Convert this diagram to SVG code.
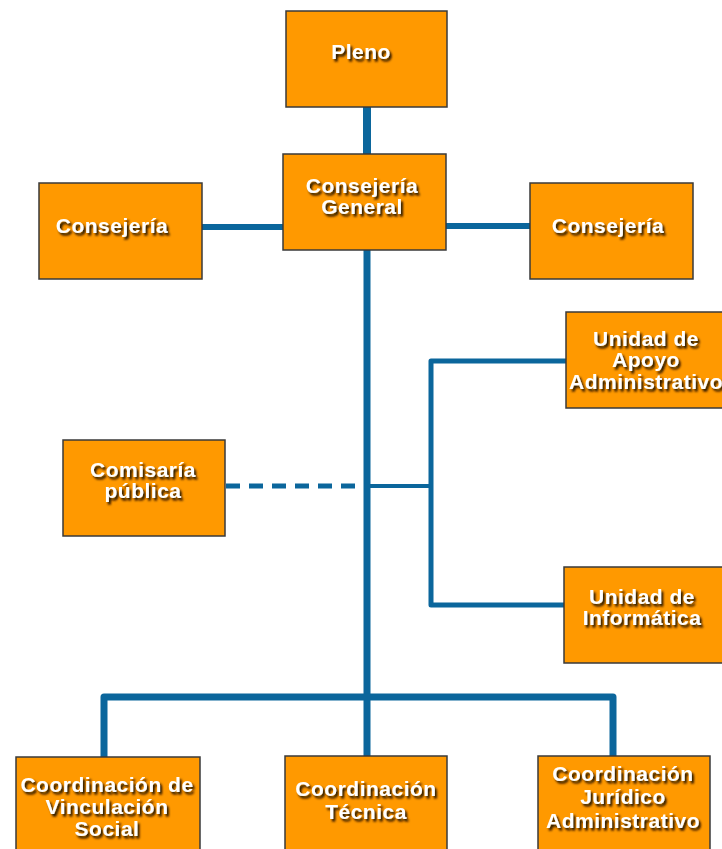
<svg xmlns="http://www.w3.org/2000/svg" width="722" height="849" viewBox="0 0 722 849">
<style>
.box{fill:#FF9900;stroke:#3a3a3a;stroke-width:1.5}
.t{font-family:"Liberation Sans",Arial,sans-serif;font-weight:bold;font-size:21px;letter-spacing:0.5px;fill:#ffffff;text-anchor:middle;filter:url(#sh)}
.c{fill:none;stroke:#0b669c;stroke-linecap:butt;stroke-linejoin:round}
</style>
<defs>
<filter id="sh" x="-20%" y="-40%" width="140%" height="180%">
<feDropShadow dx="2" dy="2.5" stdDeviation="1.2" flood-color="#1e0e00" flood-opacity="1"/>
</filter>
</defs>
<rect width="722" height="849" fill="#ffffff"/>
<g id="connectors">
<line class="c" x1="367" y1="107" x2="367" y2="154" stroke-width="8"/>
<line class="c" x1="202" y1="227" x2="283" y2="227" stroke-width="6"/>
<line class="c" x1="446" y1="226" x2="530" y2="226" stroke-width="6"/>
<line class="c" x1="367" y1="250" x2="367" y2="757" stroke-width="7"/>
<path class="c" d="M566 361 H431 V605 H564" stroke-width="5"/>
<line class="c" x1="367" y1="486" x2="431" y2="486" stroke-width="4"/>
<line class="c" x1="226" y1="486" x2="367" y2="486" stroke-width="5" stroke-dasharray="14 9"/>
<path class="c" d="M104 757 V697 H613 V757" stroke-width="7"/>
</g>
<g id="pleno"><rect class="box" x="286" y="11" width="161" height="96"/><text class="t" x="361" y="59">Pleno</text></g>
<g id="consejeria-general"><rect class="box" x="283" y="154" width="163" height="96"/><text class="t" x="362" y="193">Consejería</text><text class="t" x="362" y="214">General</text></g>
<g id="consejeria-izq"><rect class="box" x="39" y="183" width="163" height="96"/><text class="t" x="112" y="233">Consejería</text></g>
<g id="consejeria-der"><rect class="box" x="530" y="183" width="163" height="96"/><text class="t" x="608" y="233">Consejería</text></g>
<g id="unidad-apoyo"><rect class="box" x="566" y="312" width="162" height="96"/><text class="t" x="646" y="346">Unidad de</text><text class="t" x="646" y="367">Apoyo</text><text class="t" x="646" y="389">Administrativo</text></g>
<g id="comisaria"><rect class="box" x="63" y="440" width="162" height="96"/><text class="t" x="143" y="477">Comisaría</text><text class="t" x="143" y="498">pública</text></g>
<g id="unidad-informatica"><rect class="box" x="564" y="567" width="162" height="96"/><text class="t" x="642" y="604">Unidad de</text><text class="t" x="642" y="625">Informática</text></g>
<g id="coord-vinculacion"><rect class="box" x="16" y="757" width="184" height="100"/><text class="t" x="107" y="792">Coordinación de</text><text class="t" x="107" y="814">Vinculación</text><text class="t" x="107" y="836">Social</text></g>
<g id="coord-tecnica"><rect class="box" x="285" y="756" width="162" height="100"/><text class="t" x="366" y="796">Coordinación</text><text class="t" x="366" y="819">Técnica</text></g>
<g id="coord-juridico"><rect class="box" x="538" y="756" width="172" height="100"/><text class="t" x="623" y="781">Coordinación</text><text class="t" x="623" y="804">Jurídico</text><text class="t" x="623" y="828">Administrativo</text></g>
</svg>
